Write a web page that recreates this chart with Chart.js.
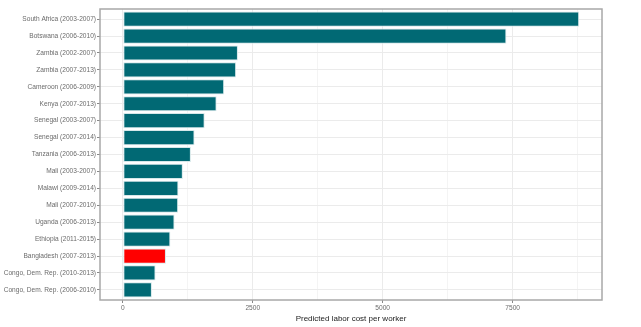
<!DOCTYPE html>
<html>
<head>
<meta charset="utf-8">
<script src="https://cdn.jsdelivr.net/npm/chart.js@4"></script>
<style>
  body { margin: 0; background: #fff; }
  #contenedor { width: 641px; height: 327px; }
</style>
</head>
<body>
<div id="contenedor"><canvas id="costoChart"></canvas></div>
<script>
const paises = [
    'South Africa (2003-2007)',
    'Botswana (2006-2010)',
    'Zambia (2002-2007)',
    'Zambia (2007-2013)',
    'Cameroon (2006-2009)',
    'Kenya (2007-2013)',
    'Senegal (2003-2007)',
    'Senegal (2007-2014)',
    'Tanzania (2006-2013)',
    'Mali (2003-2007)',
    'Malawi (2009-2014)',
    'Mali (2007-2010)',
    'Uganda (2006-2013)',
    'Ethiopia (2011-2015)',
    'Bangladesh (2007-2013)',
    'Congo, Dem. Rep. (2010-2013)',
    'Congo, Dem. Rep. (2006-2010)'
];
const costos = [8780, 7380, 2215, 2180, 1950, 1805, 1575, 1380, 1310, 1155, 1070, 1065, 995, 915, 830, 630, 560];
const resaltado = 'Bangladesh (2007-2013)';
const ticksX = [0, 2500, 5000, 7500];
const ticksMenores = [1250, 3750, 6250, 8750];

document.addEventListener('DOMContentLoaded', function() {
    const maximo = Math.max(...costos);
    const colores = paises.map(p => p === resaltado ? '#ff0000' : '#016974');

    const bordePanel = {
        id: 'bordePanel',
        afterDraw(chart) {
            const a = chart.chartArea;
            const c = chart.ctx;
            c.save();
            c.strokeStyle = '#a8a8a8';
            c.lineWidth = 1.5;
            c.strokeRect(a.left, a.top, a.right - a.left, a.bottom - a.top);
            c.restore();
        }
    };

    const ctx = document.getElementById('costoChart').getContext('2d');
    new Chart(ctx, {
        type: 'bar',
        data: {
            datasets: [{
                data: costos.map((v, i) => ({ x: v, y: i + 1 })),
                backgroundColor: colores,
                borderColor: '#d6e8ea',
                borderWidth: 1,
                borderSkipped: false,
                categoryPercentage: 1,
                barPercentage: 0.9
            }]
        },
        plugins: [bordePanel],
        options: {
            indexAxis: 'y',
            responsive: true,
            maintainAspectRatio: false,
            animation: false,
            layout: { padding: { top: 9, right: 39, left: 0, bottom: 0 } },
            plugins: { legend: { display: false }, tooltip: { enabled: false } },
            scales: {
                x: {
                    type: 'linear',
                    min: -0.05 * maximo,
                    max: 1.05 * maximo,
                    afterBuildTicks: s => {
                        s.ticks = [...ticksX, ...ticksMenores].sort((a, b) => a - b).map(v => ({ value: v }));
                    },
                    afterFit: s => { s.height = 27; },
                    border: { display: false },
                    grid: {
                        color: c => ticksX.includes(c.tick && c.tick.value) ? '#ebebeb' : '#f4f4f4',
                        tickColor: c => ticksX.includes(c.tick && c.tick.value) ? '#888888' : 'rgba(0,0,0,0)',
                        tickLength: 3,
                        lineWidth: 1
                    },
                    ticks: {
                        autoSkip: false,
                        maxRotation: 0,
                        padding: 1,
                        color: '#6b6b6b',
                        font: { family: 'Liberation Sans, Arial', size: 6.6 },
                        callback: v => ticksX.includes(v) ? String(v) : ''
                    },
                    title: {
                        display: true,
                        text: 'Predicted labor cost per worker',
                        color: '#222222',
                        padding: { top: 0, bottom: 3 },
                        font: { family: 'Liberation Sans, Arial', size: 8 }
                    }
                },
                y: {
                    type: 'linear',
                    reverse: true,
                    offset: false,
                    min: 0.4,
                    max: paises.length + 0.6,
                    afterBuildTicks: s => {
                        s.ticks = paises.map((p, i) => ({ value: i + 1 }));
                    },
                    afterFit: s => { s.width = 100; },
                    border: { display: false },
                    grid: {
                        offset: false,
                        color: '#ebebeb',
                        tickColor: '#888888',
                        tickLength: 3,
                        lineWidth: 1
                    },
                    ticks: {
                        autoSkip: false,
                        padding: 1,
                        color: '#6b6b6b',
                        font: { family: 'Liberation Sans, Arial', size: 6.6 },
                        callback: v => paises[v - 1] || ''
                    }
                }
            }
        }
    });
});
</script>
</body>
</html>
